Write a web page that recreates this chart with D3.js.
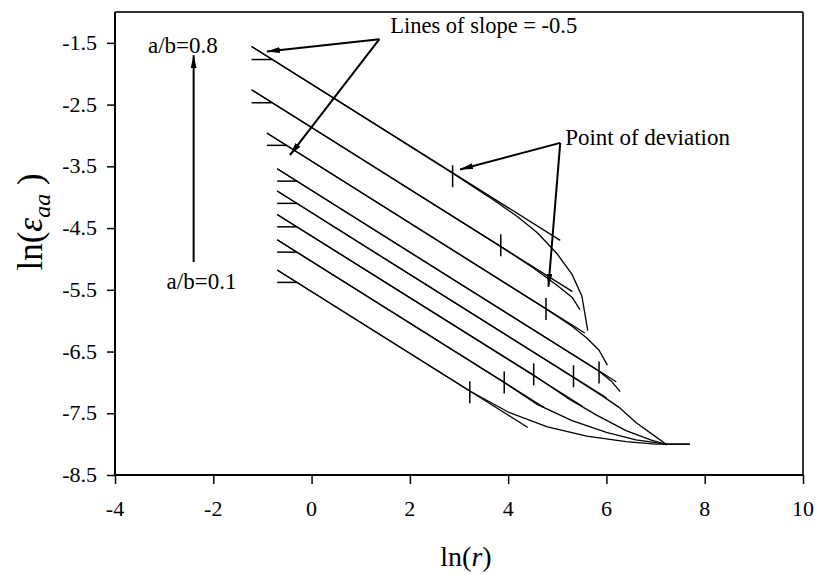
<!DOCTYPE html>
<html><head><meta charset="utf-8">
<script src="https://cdn.jsdelivr.net/npm/d3@7"></script>
<style>
body{margin:0;background:#fff}
svg{display:block}
</style>
</head><body>
<svg id="chart" width="818" height="574"></svg>
<script>
// ---- data ----
const xTicks = [-4, -2, 0, 2, 4, 6, 8, 10];
const yTicks = [-8.5, -7.5, -6.5, -5.5, -4.5, -3.5, -2.5, -1.5];
const xTickLabels = ["-4", "-2", "0", "2", "4", "6", "8", "10"];
const yTickLabels = ["-8.5", "-7.5", "-6.5", "-5.5", "-4.5", "-3.5", "-2.5", "-1.5"];
const ratios = ["0.8", "0.7", "0.6", "0.5", "0.4", "0.3", "0.2", "0.1"];

const curve08 = [[-1.22,-1.56],[0.5,-2.42],[2.87,-3.61],[3.6,-3.99],[4.2,-4.32],[4.6,-4.58],[5.0,-4.92],[5.3,-5.25],[5.5,-5.6],[5.62,-6.16]];
const curve07 = [[-1.22,-2.26],[3.85,-4.80],[4.5,-5.14],[5.0,-5.43],[5.3,-5.62],[5.46,-5.82]];
const curve06 = [[-0.91,-2.96],[4.77,-5.81],[5.3,-6.09],[5.6,-6.28],[5.85,-6.48],[6.02,-6.72]];
const curve05 = [[-0.70,-3.54],[5.85,-6.82],[6.1,-6.98],[6.28,-7.15]];
const curve04 = [[-0.70,-3.90],[5.33,-6.92],[5.9,-7.21],[6.25,-7.40],[6.6,-7.65],[6.95,-7.85],[7.23,-8.01]];
const curve03 = [[-0.70,-4.28],[4.52,-6.88],[5.2,-7.25],[5.8,-7.53],[6.4,-7.78],[6.9,-7.93],[7.23,-8.01]];
const curve02 = [[-0.70,-4.69],[3.92,-7.00],[4.6,-7.36],[5.3,-7.62],[6.0,-7.81],[6.6,-7.93],[7.23,-8.00],[7.70,-8.00]];
const curve01 = [[-0.70,-5.18],[3.22,-7.14],[4.0,-7.48],[4.8,-7.72],[5.6,-7.87],[6.4,-7.96],[7.0,-8.00],[7.69,-8.00]];

// fitted lines of slope -0.5 (start / end points)
const fitStartX = [-1.22, -1.22, -0.91, -0.70, -0.70, -0.70, -0.70, -0.70];
const fitStartY = [-1.56, -2.26, -2.96, -3.54, -3.90, -4.28, -4.69, -5.18];
const fitEndX   = [5.06, 5.31, 5.56, 6.20, 6.00, 5.52, 4.74, 4.40];
const fitEndY   = [-4.70, -5.53, -6.20, -6.99, -7.25, -7.39, -7.41, -7.73];

// short horizontal dashes at the start of each line
const dashX0 = [-1.22, -1.22, -0.91, -0.70, -0.70, -0.70, -0.70, -0.70];
const dashX1 = [-0.81, -0.81, -0.50, -0.30, -0.30, -0.30, -0.30, -0.30];
const dashY  = [-1.77, -2.47, -3.16, -3.74, -4.10, -4.48, -4.89, -5.38];

// points of deviation
const devX = [2.87, 3.85, 4.77, 5.85, 5.33, 4.52, 3.92, 3.22];
const devY = [-3.66, -4.78, -5.81, -6.84, -6.90, -6.87, -7.00, -7.16];

const curves = [curve08, curve07, curve06, curve05, curve04, curve03, curve02, curve01];

// ---- layout ----
const W = 818, H = 574;
const FONT = "Liberation Serif";
const m = {left: 115, right: 803, top: 12, bottom: 475};
const x = d3.scaleLinear().domain([-4, 10]).range([m.left, m.right]);
const y = d3.scaleLinear().domain([-8.5, -1]).range([m.bottom, m.top]);

const svg = d3.select("#chart").attr("font-family", FONT);
svg.append("rect").attr("width", W).attr("height", H).attr("fill", "#fff");

const defs = svg.append("defs");
defs.append("marker").attr("id", "ah").attr("viewBox", "0 0 13 6")
  .attr("refX", 13).attr("refY", 3).attr("markerWidth", 13).attr("markerHeight", 6)
  .attr("markerUnits", "userSpaceOnUse").attr("orient", "auto")
  .append("path").attr("d", "M0,0 L13,3 L0,6 Z").attr("fill", "#000");

// frame: top and right
svg.append("line").attr("x1", m.left).attr("x2", m.right).attr("y1", m.top).attr("y2", m.top)
  .attr("stroke", "#333").attr("stroke-width", 2);
svg.append("line").attr("x1", m.right).attr("x2", m.right).attr("y1", m.top).attr("y2", m.bottom)
  .attr("stroke", "#333").attr("stroke-width", 2);

// axes (lines + ticks from d3.axis; labels drawn as separate text)
const xAxis = d3.axisBottom(x).tickValues(xTicks).tickSize(9).tickFormat("");
const gx = svg.append("g").attr("transform", `translate(0,${m.bottom})`).call(xAxis);
const yAxis = d3.axisLeft(y).tickValues(yTicks).tickSize(8).tickFormat("");
const gy = svg.append("g").attr("transform", `translate(${m.left},0)`).call(yAxis);
[gx, gy].forEach(g => {
  g.select(".domain").attr("stroke", "#000").attr("stroke-width", 2);
  g.selectAll(".tick line").attr("stroke", "#000").attr("stroke-width", 1.5);
});
gx.select(".domain").attr("d", `M${m.left},0H${m.right}`);
gy.select(".domain").attr("d", `M0,${m.top}V${m.bottom}`);

svg.append("g").selectAll("text").data(xTicks).join("text")
  .attr("x", d => x(d)).attr("y", m.bottom + 41).attr("text-anchor", "middle")
  .attr("font-family", FONT).attr("font-size", 22).attr("fill", "#000")
  .text((d, i) => xTickLabels[i]);
svg.append("g").selectAll("text").data(yTicks).join("text")
  .attr("x", m.left - 18).attr("y", d => y(d) + 7).attr("text-anchor", "end")
  .attr("font-family", FONT).attr("font-size", 22).attr("fill", "#000")
  .text((d, i) => yTickLabels[i]);

// data
const line = d3.line().x(d => x(d[0])).y(d => y(d[1]));
const plot = svg.append("g").attr("fill", "none").attr("stroke", "#000").attr("stroke-width", 1.3);

plot.selectAll(".fit").data(fitStartX).join("line").attr("class", "fit")
  .attr("x1", (d, i) => x(fitStartX[i])).attr("y1", (d, i) => y(fitStartY[i]))
  .attr("x2", (d, i) => x(fitEndX[i])).attr("y2", (d, i) => y(fitEndY[i]));

plot.selectAll(".curve").data(curves).join("path").attr("class", "curve").attr("d", line)
  .attr("stroke-linejoin", "round");

plot.selectAll(".dash").data(dashY).join("line").attr("class", "dash")
  .attr("x1", (d, i) => x(dashX0[i])).attr("x2", (d, i) => x(dashX1[i]))
  .attr("y1", d => y(d)).attr("y2", d => y(d)).attr("stroke-width", 1.5);

plot.selectAll(".dev").data(devX).join("line").attr("class", "dev")
  .attr("x1", d => x(d)).attr("x2", d => x(d))
  .attr("y1", (d, i) => y(devY[i]) - 11).attr("y2", (d, i) => y(devY[i]) + 11)
  .attr("stroke-width", 1.5);

// annotations
const ann = svg.append("g").attr("font-family", FONT);
function arrow(x1, y1, x2, y2) {
  ann.append("line").attr("x1", x(x1)).attr("y1", y(y1)).attr("x2", x(x2)).attr("y2", y(y2))
    .attr("stroke", "#000").attr("stroke-width", 2).attr("marker-end", "url(#ah)");
}
ann.append("text").attr("x", x(-3.33)).attr("y", y(-1.67)).attr("font-size", 23).text("a/b=" + ratios[0]);
ann.append("text").attr("x", x(-2.95)).attr("y", y(-5.49)).attr("font-size", 23).text("a/b=" + ratios[7]);
arrow(-2.4, -5.05, -2.4, -1.7);

ann.append("text").attr("x", x(1.6)).attr("y", y(-1.34)).attr("font-size", 22.5).text("Lines of slope = -0.5");
arrow(1.38, -1.44, -0.91, -1.64);
arrow(1.38, -1.44, -0.44, -3.32);

ann.append("text").attr("x", x(5.16)).attr("y", y(-3.16)).attr("font-size", 23).text("Point of deviation");
arrow(5.06, -3.12, 3.02, -3.55);
arrow(5.06, -3.12, 4.82, -5.45);

// axis titles
const xt = svg.append("text").attr("x", 466).attr("y", 566).attr("text-anchor", "middle")
  .attr("font-family", FONT).attr("font-size", 28);
xt.append("tspan").text("ln(");
xt.append("tspan").attr("font-style", "italic").text("r");
xt.append("tspan").text(")");
const yt = svg.append("text").attr("transform", "translate(42,222) rotate(-90)").attr("text-anchor", "middle")
  .attr("font-family", FONT).attr("font-size", 35);
yt.append("tspan").text("ln(");
yt.append("tspan").attr("font-style", "italic").text("ε");
yt.append("tspan").attr("font-style", "italic").attr("font-size", 24).attr("dy", 8).text("aa");
yt.append("tspan").attr("dy", -8).text(" )");
</script>
</body></html>
